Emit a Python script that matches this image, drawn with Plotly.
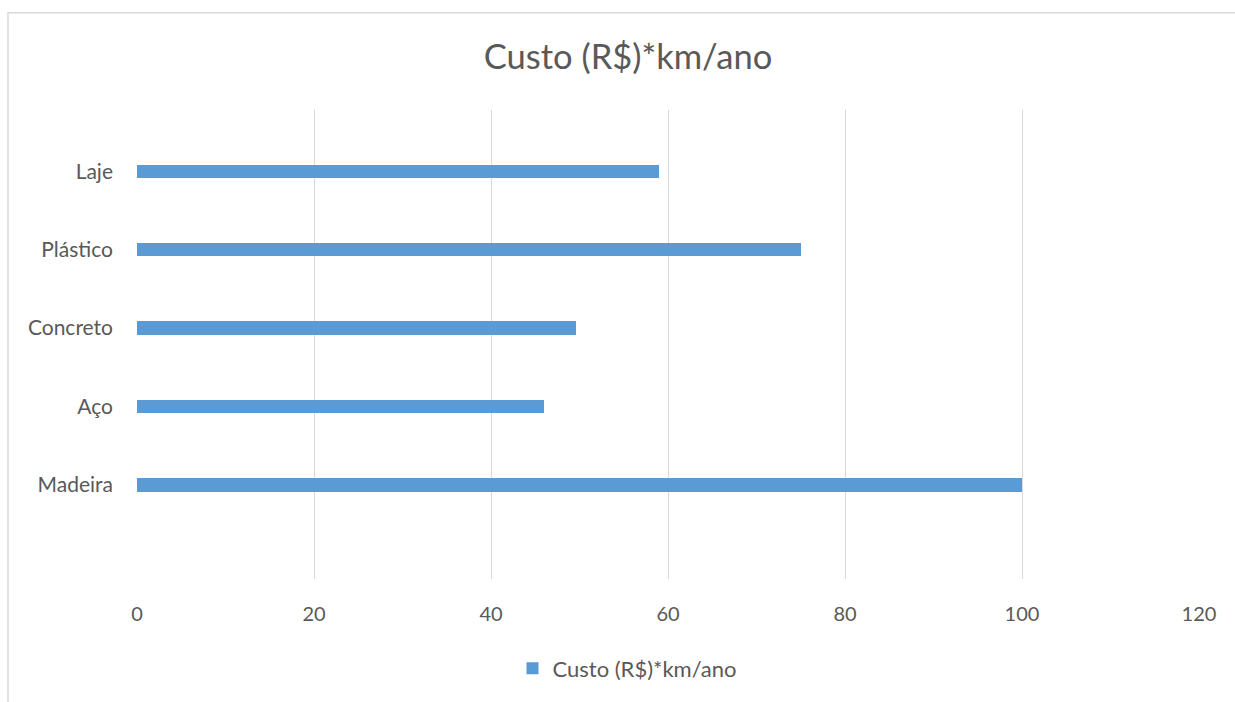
import plotly.graph_objects as go

categories = ["Madeira", "Aço", "Concreto", "Plástico", "Laje"]
values = [100, 46, 49.6, 75, 59]
series_name = "Custo (R$)*km/ano"
x_ticks = [0, 20, 40, 60, 80, 100, 120]

FONT = "Lato, 'Open Sans', sans-serif"
GREY = "#595959"

fig = go.Figure()
fig.add_trace(go.Bar(
    y=categories, x=values, orientation="h", name=series_name,
    marker=dict(color="#5B9BD5", line=dict(width=0)),
    width=0.17, showlegend=True,
))

L, R, T, B = 137, 36, 110, 115
W, H = 1235, 702
pw = W - L - R
ph = H - T - B

fig.update_layout(
    width=W, height=H,
    margin=dict(l=L, r=R, t=T, b=B),
    paper_bgcolor="white", plot_bgcolor="white",
    font=dict(family=FONT, color=GREY, size=20),
    title=dict(text=series_name, x=628 / W, xanchor="center",
               y=1 - 57 / H, yanchor="middle",
               font=dict(size=34.5, color=GREY, family=FONT)),
    xaxis=dict(range=[0, 120], tickvals=x_ticks, showgrid=True,
               gridcolor="#D9D9D9", gridwidth=1, zeroline=False,
               showline=False, ticks="", ticklabelstandoff=21,
               tickfont=dict(size=20, color=GREY), fixedrange=True),
    yaxis=dict(type="category", categoryorder="array", categoryarray=categories,
               range=[-1.2, 4.78], showgrid=False, zeroline=False,
               showline=False, ticks="", ticklabelstandoff=23,
               tickfont=dict(size=21, color=GREY)),
    legend=dict(orientation="h", x=(627 - L) / pw, xanchor="center",
                y=(H - B - 678) / ph, yanchor="middle",
                font=dict(size=22, color=GREY)),
    bargap=0,
)

# chart area border
fig.add_shape(type="rect", xref="paper", yref="paper",
              x0=(8 - L) / pw, x1=(W + 20 - L) / pw,
              y0=(H - B - (H + 20)) / ph, y1=(H - B - 11) / ph,
              line=dict(color="#D9D9D9", width=1.5), fillcolor="rgba(0,0,0,0)",
              layer="below")

fig.write_html("out.html")
